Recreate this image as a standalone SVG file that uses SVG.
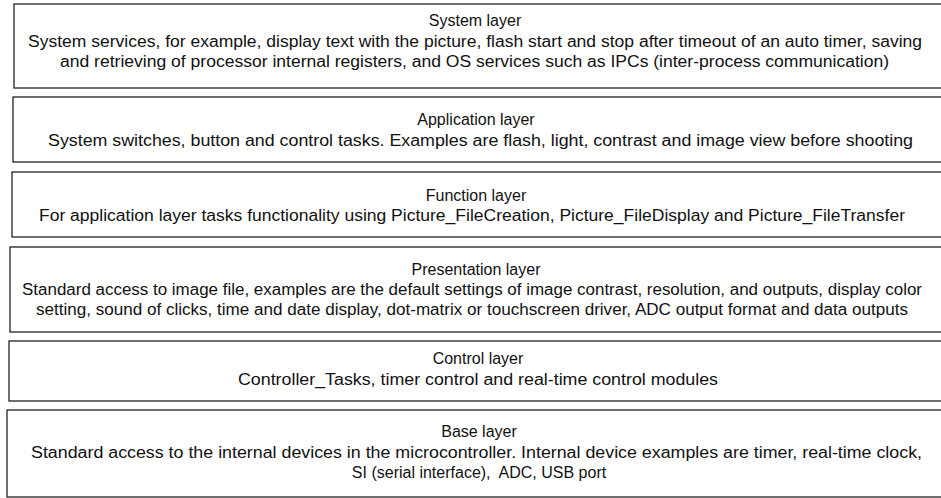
<svg xmlns="http://www.w3.org/2000/svg" width="941" height="498" viewBox="0 0 941 498">
<style>
.box{fill:#fff;stroke:#222;stroke-width:1.3}
text{font-family:"Liberation Sans",Arial,sans-serif;font-size:16px;fill:#111}
.t{text-anchor:middle}
</style>
<rect width="941" height="498" fill="#fff"/>
<g id="system-layer">
<rect class="box" x="14" y="4" width="940" height="84"/>
<text class="t" x="475" y="26">System layer</text>
<text x="28" y="46.5" textLength="894" lengthAdjust="spacingAndGlyphs">System services, for example, display text with the picture, flash start and stop after timeout of an auto timer, saving</text>
<text x="60" y="66.5" textLength="829" lengthAdjust="spacingAndGlyphs">and retrieving of processor internal registers, and OS services such as IPCs (inter-process communication)</text>
</g>
<g id="application-layer">
<rect class="box" x="13" y="97" width="940" height="65"/>
<text class="t" x="476" y="125">Application layer</text>
<text x="48" y="146" textLength="865" lengthAdjust="spacingAndGlyphs">System switches, button and control tasks. Examples are flash, light, contrast and image view before shooting</text>
</g>
<g id="function-layer">
<rect class="box" x="12" y="172" width="940" height="65"/>
<text class="t" x="476" y="201">Function layer</text>
<text x="39" y="221" textLength="866" lengthAdjust="spacingAndGlyphs">For application layer tasks functionality using Picture_FileCreation, Picture_FileDisplay and Picture_FileTransfer</text>
</g>
<g id="presentation-layer">
<rect class="box" x="10" y="247" width="942" height="85"/>
<text class="t" x="476" y="275">Presentation layer</text>
<text x="22" y="295" textLength="900" lengthAdjust="spacingAndGlyphs">Standard access to image file, examples are the default settings of image contrast, resolution, and outputs, display color</text>
<text x="36" y="315" textLength="872" lengthAdjust="spacingAndGlyphs">setting, sound of clicks, time and date display, dot-matrix or touchscreen driver, ADC output format and data outputs</text>
</g>
<g id="control-layer">
<rect class="box" x="9" y="341" width="943" height="60"/>
<text class="t" x="478" y="364">Control layer</text>
<text x="238" y="385" textLength="480" lengthAdjust="spacingAndGlyphs">Controller_Tasks, timer control and real-time control modules</text>
</g>
<g id="base-layer">
<rect class="box" x="7" y="410" width="945" height="87"/>
<text class="t" x="479" y="437">Base layer</text>
<text x="31" y="458" textLength="891" lengthAdjust="spacingAndGlyphs">Standard access to the internal devices in the microcontroller. Internal device examples are timer, real-time clock,</text>
<text class="t" x="479" y="478" xml:space="preserve">SI (serial interface),  ADC, USB port</text>
</g>
<g id="connectors"/>
</svg>
